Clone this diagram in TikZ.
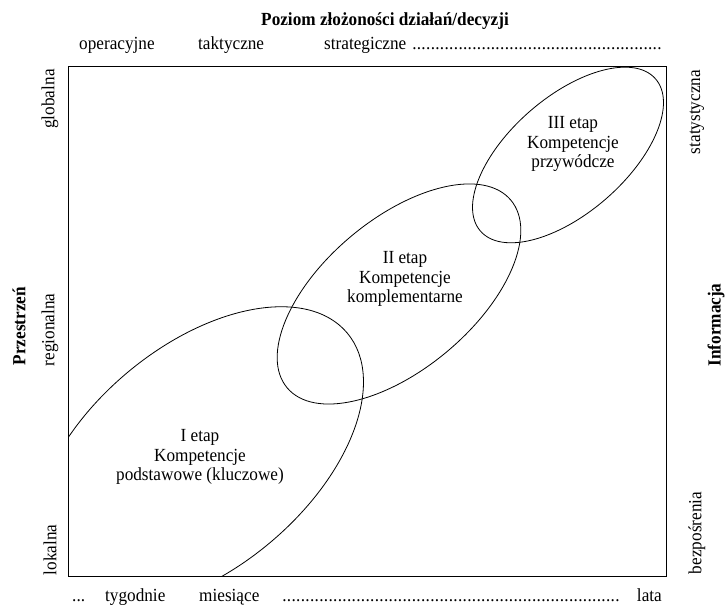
\documentclass[tikz,border=0pt]{standalone}
\usepackage{fontspec}
\setmainfont{Liberation Serif}[FakeStretch=0.93]
\usetikzlibrary{positioning}
\newcommand{\dotrun}{\leaders\hbox to 0.25em{\hss.\hss}\hfill}

\begin{document}
\begin{tikzpicture}[x=1pt, y=1pt,
  lbl/.style={inner sep=0pt, font=\fontsize{18.5}{20}\selectfont},
  ttl/.style={inner sep=0pt, font=\fontsize{18.5}{20}\selectfont\bfseries},
  vlbl/.style={lbl, rotate=90},
  vttl/.style={ttl, rotate=90},
  stage/.style={inner sep=0pt, align=center, font=\fontsize{18.5}{19.5}\selectfont},
  edge/.style={line width=0.8pt}
]
\useasboundingbox (0,0) rectangle (726,612);

% frame
\draw[edge] (68,36) rectangle (666,546);

% top axis
\node[ttl, anchor=base] (poziom) at (385,586) {Poziom złożoności działań/decyzji};
\node[lbl, anchor=base west] (oper) at (79,562) {operacyjne};
\node[lbl, anchor=base west] (takt) at (198,562) {taktyczne};
\node[lbl, anchor=base west] (strat) at (324,562) {\hbox to 338pt{strategiczne \dotrun}};

% bottom axis
\node[lbl, anchor=base west] (kropki) at (72,10) {...};
\node[lbl, anchor=base west] (tyg) at (105,10) {tygodnie};
\node[lbl, anchor=base west] (mies) at (199,10) {miesiące};
\node[lbl, anchor=base west] (ciag) at (282,10) {\hbox to 341pt{\dotrun}};
\node[lbl, anchor=base east] (lata) at (662,10) {lata};

% left axis
\node[vttl] (przestrzen) at (19,286) {Przestrzeń};
\node[vlbl] (glob) at (50,513) {globalna};
\node[vlbl] (reg) at (50,282) {regionalna};
\node[vlbl] (lok) at (50,62) {lokalna};

% right axis
\node[vttl] (informacja) at (716,287) {Informacja};
\node[vlbl] (stat) at (697,500) {statystyczna};
\node[vlbl] (bezp) at (697,79) {bezpośrenia};

% stages
\begin{scope}
  \clip (68,36) rectangle (666,546);
  \draw[edge, shift={(198.6,154.3)}, rotate=40] (0,0) ellipse [x radius=194pt, y radius=111pt];
\end{scope}
\draw[edge, shift={(399,318)}, rotate=40] (0,0) ellipse [x radius=146pt, y radius=75pt];
\draw[edge, shift={(568,457)}, rotate=41] (0,0) ellipse [x radius=116pt, y radius=58pt];

\node[stage] (etap1) at (200,155) {I etap\\Kompetencje\\podstawowe (kluczowe)};
\node[stage] (etap2) at (405,333) {II etap\\Kompetencje\\komplementarne};
\node[stage] (etap3) at (573,468) {III etap\\Kompetencje\\przywódcze};
\end{tikzpicture}
\end{document}
